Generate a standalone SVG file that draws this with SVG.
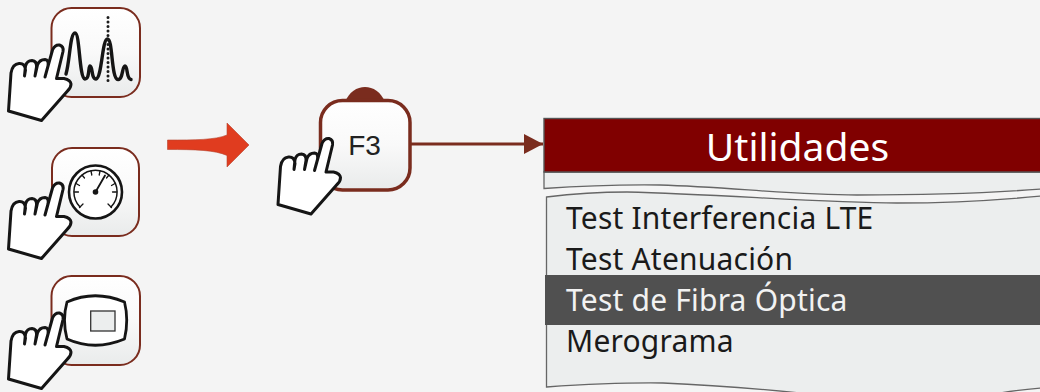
<svg xmlns="http://www.w3.org/2000/svg" xmlns:xlink="http://www.w3.org/1999/xlink" width="1040" height="392" viewBox="0 0 1040 392">
<style>
.btn{fill:url(#btnGrad);stroke:#7a2c1e;stroke-width:2}
.hand{fill:#fff;stroke:#151515;stroke-width:3;stroke-linejoin:round;stroke-linecap:round}
.ink{fill:none;stroke:#151515;stroke-linecap:round;stroke-linejoin:round}
.panel{fill:#eceeee;stroke:#666;stroke-width:1.300}
.item{font-family:"Noto Sans","Open Sans",sans-serif;font-size:30px;letter-spacing:0.2px;fill:#1a1a1a}
</style>
<defs>
<linearGradient id="btnGrad" x1="0" y1="0" x2="0" y2="1"><stop offset="0" stop-color="#fff"/><stop offset="0.5" stop-color="#f9f9f9"/><stop offset="1" stop-color="#e9ebeb"/></linearGradient>
<marker id="arrowHead" markerUnits="userSpaceOnUse" markerWidth="20" markerHeight="20" refX="19" refY="10" orient="auto"><path d="M0 0L19 10L0 20Z" fill="#7a2c1e"/></marker>
<g id="handShape">
<path class="hand" d="M8.500 111L11 73Q12.500 64 19 63.500Q25 63 25.500 70L24.500 76L25.500 66Q27 60.500 32 60.500Q37 61 36.500 67L35 76L37.500 65Q39.500 59.500 45 59.500Q49 60 48 66L45 77L52.500 50Q55 44.500 59.500 45Q64 46.500 63 51.500L56.500 78.500L64 78.500Q70.500 80 71 84Q71 88 67.500 91L41.500 120.500Z"/>
</g>
</defs>
<rect width="1040" height="392" fill="#f4f4f4"/>
<g id="node-spectrum">
<rect class="btn" x="51.500" y="8" width="88.500" height="89" rx="20"/>
<path class="ink" stroke-width="3.400" d="M66 74C70 60 70 33 75 33C80 33 79 78 85 79C90 79 88 66 90 66C93 66 91 79 96 79C102 78 102 39 107.500 39C113 39 111 79 118 79.500C123 80 122 66 125 66C128 66 126 79 131 79.500"/>
<path d="M108 17.500V85" fill="none" stroke="#1c1c1c" stroke-width="3" stroke-linecap="round" stroke-dasharray="0 4.500"/>
<use xlink:href="#handShape" href="#handShape"/>
</g>
<g id="node-gauge">
<rect class="btn" x="52" y="148" width="87" height="88" rx="20"/>
<circle cx="95.500" cy="192" r="26.500" fill="#fff" stroke="#151515" stroke-width="2.600"/>
<path class="ink" stroke-width="1.500" d="M80 207A21.600 21.600 0 1 1 111 207"/>
<path class="ink" stroke-width="1.300" d="M79.500 207.500L83 204M74.500 192H78.500M76 183.500L79.500 185.500M82 175L84.500 178M91 171L91.800 175M100 171L99.200 175M109 175L106.500 178M115 183.500L111.500 185.500M116.500 192H112.500M111.500 207.500L108 204"/>
<path class="ink" stroke-width="1.800" d="M95.500 192L105 175.500"/>
<circle cx="95.500" cy="192" r="2.800" fill="#151515"/>
<use xlink:href="#handShape" href="#handShape" y="138"/>
</g>
<g id="node-screen">
<rect class="btn" x="51.500" y="276" width="88.500" height="89" rx="20"/>
<path d="M67 302Q95 289.500 124.500 302Q129 320 124.500 339Q95 351.500 67 339Q62 320 67 302Z" fill="#fff" stroke="#151515" stroke-width="2.800" stroke-linejoin="round"/>
<rect x="90.700" y="311" width="24.300" height="20" fill="#eceeee" stroke="#333" stroke-width="1.300"/>
<use xlink:href="#handShape" href="#handShape" y="268"/>
</g>
<g id="node-transition-arrow">
<path d="M167.500 140C195 140 215 140 227 135L227 123L249 145L227 167L227 155.500C215 150 195 149.500 167.500 149.500Z" fill="#e03c1f" stroke="#b5432d" stroke-width="0.600"/>
</g>
<g id="connectors">
<path d="M410 144H543" fill="none" stroke="#7a2c1e" stroke-width="3" marker-end="url(#arrowHead)"/>
</g>
<g id="node-f3">
<path d="M345 102C349 92 357 87 365 87C373 87 381 92 385 102Z" fill="#7a2c1e"/>
<rect x="320.500" y="100.500" width="89.500" height="89.500" rx="22" fill="url(#btnGrad)" stroke="#7a2c1e" stroke-width="3.500"/>
<text x="364.500" y="155" text-anchor="middle" font-family="Liberation Sans, Arial, sans-serif" font-size="28" fill="#222">F3</text>
<use xlink:href="#handShape" href="#handShape" x="269.500" y="93.500"/>
</g>
<g id="node-utilidades">
<path class="panel" d="M544 172V188.500C580 186 620 184.500 660 185C730 187 790 195 857 195C930 195 990 193 1041 189V172Z"/>
<rect x="544" y="118.500" width="497" height="53.500" fill="#800000" stroke="#555" stroke-width="1.400"/>
<text x="797.500" y="161" text-anchor="middle" font-family="Noto Sans, Open Sans, sans-serif" font-size="39" fill="#fff">Utilidades</text>
<path class="panel" d="M546.500 197C575 193.500 600 192 627 192C720 194 820 203 897 203C950 203 1000 200 1041 196V388C1025 389.500 1012 391 1000 393H800C760 389 710 385 663 383C625 382.500 590 384 546.500 387Z"/>
<rect x="545" y="275" width="496" height="50" fill="#505050"/>
<text class="item" x="566" y="229">Test Interferencia LTE</text>
<text class="item" x="566" y="270">Test Atenuación</text>
<text class="item" x="566" y="311" style="fill:#f2f2f2">Test de Fibra Óptica</text>
<text class="item" x="566" y="352">Merograma</text>
</g>
</svg>
